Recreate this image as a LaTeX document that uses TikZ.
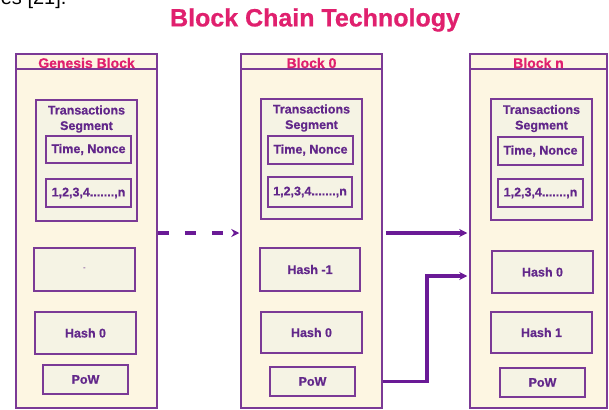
\documentclass[tikz,border=0pt]{standalone}
\usepackage{fontspec}
\setmainfont{Liberation Sans}
\newfontfamily\heavy[FakeBold=0.6]{Liberation Sans Bold}
\usetikzlibrary{arrows.meta,calc}
\definecolor{bord}{HTML}{7B3A96}
\definecolor{txt}{HTML}{62278A}
\definecolor{pinkt}{HTML}{E0206E}
\definecolor{arr}{HTML}{6A1A96}
\definecolor{outerfill}{HTML}{FDF6E2}
\definecolor{innerfill}{HTML}{F5F3E4}
\tikzset{
  outerbox/.style={draw=bord,line width=1.5pt,fill=outerfill,inner sep=0pt},
  innerbox/.style={draw=bord,line width=1.5pt,fill=innerfill,inner sep=0pt,
    font=\fontsize{12.5}{14}\selectfont\heavy,text=txt,align=center},
  headtext/.style={font=\fontsize{14}{16}\selectfont\heavy,text=pinkt},
  segtext/.style={font=\fontsize{12.5}{15.5}\selectfont\heavy,text=txt,align=center},
  flow/.style={draw=arr,line width=3.2pt,-{Stealth[length=8pt,width=8pt]}},
  box/.style args={#1x#2}{minimum width=#1pt,minimum height=#2pt}
}
\begin{document}
\begin{tikzpicture}[x=1pt,y=-1pt]
\clip (0,0) rectangle (609,409);
\fill[white] (0,0) rectangle (609,409);
\node[anchor=base east,font=\fontsize{20}{22}\selectfont,text=black] (cap) at (70,5) {es [21].};
\node[font=\fontsize{25}{28}\selectfont\heavy,text=pinkt] (title) at (315,20) {Block Chain Technology};
% Genesis block
\node[outerbox,box=141x354] (g) at (86.5,231) {};
\draw[bord,line width=1.5pt] ($(g.north west)+(0,16)$) -- ($(g.north east)+(0,16)$);
\node[headtext] (gh) at (86.5,63) {Genesis Block};
\node[innerbox,box=101x121] (gt) at (86.5,160.5) {};
\node[segtext] (gts) at (86.5,119) {Transactions\\Segment};
\node[innerbox,box=85x27] (gtn) at (88.5,149.5) {Time, Nonce};
\node[innerbox,box=85x28] (gn) at (88.5,193) {1,2,3,4.......,n};
\node[innerbox,box=101x43,font=\fontsize{8}{9}\selectfont] (gd) at (84.5,269.5) {-};
\node[innerbox,box=101x42] (gh0) at (85.5,333) {Hash 0};
\node[innerbox,box=85x29] (gp) at (85.5,379.5) {PoW};
% Block 0
\node[outerbox,box=141x354] (b) at (311.5,231) {};
\draw[bord,line width=1.5pt] ($(b.north west)+(0,16)$) -- ($(b.north east)+(0,16)$);
\node[headtext] (bh) at (311.5,63) {Block 0};
\node[innerbox,box=101x120] (bt) at (311.5,159) {};
\node[segtext] (bts) at (311.5,118) {Transactions\\Segment};
\node[innerbox,box=85x28] (btn) at (310.5,150) {Time, Nonce};
\node[innerbox,box=84x30] (bn1) at (310,192) {1,2,3,4.......,n};
\node[innerbox,box=100x43] (bhm) at (310,269.5) {Hash -1};
\node[innerbox,box=101x41] (bh0) at (311.5,332.5) {Hash 0};
\node[innerbox,box=85x29] (bp) at (312.5,381.5) {PoW};
% Block n
\node[outerbox,box=137x354] (n) at (538.5,231) {};
\draw[bord,line width=1.5pt] ($(n.north west)+(0,16)$) -- ($(n.north east)+(0,16)$);
\node[headtext] (nh) at (538.5,63) {Block n};
\node[innerbox,box=101x121] (nt) at (541.5,159.5) {};
\node[segtext] (nts) at (541.5,118.5) {Transactions\\Segment};
\node[innerbox,box=85x28] (ntn) at (540.5,151) {Time, Nonce};
\node[innerbox,box=85x28] (nn1) at (540.5,193) {1,2,3,4.......,n};
\node[innerbox,box=101x42] (nh0) at (542.5,272) {Hash 0};
\node[innerbox,box=101x41] (nh1) at (541.5,332.5) {Hash 1};
\node[innerbox,box=85x29] (np) at (542.5,382.5) {PoW};
% connectors
\coordinate (ya) at (0,233);
\coordinate (yb) at (0,276);
\coordinate (bend) at (427,276);
\draw[flow,dash pattern=on 11pt off 16pt] (g.east |- ya) -- ([xshift=-1pt]b.west |- ya);
\draw[flow] ([xshift=3pt]b.east |- ya) -- ([xshift=-2pt]n.west |- ya);
\draw[flow] (b.east |- bp) -| (bend) -- ([xshift=-2pt]n.west |- yb);
\end{tikzpicture}
\end{document}
